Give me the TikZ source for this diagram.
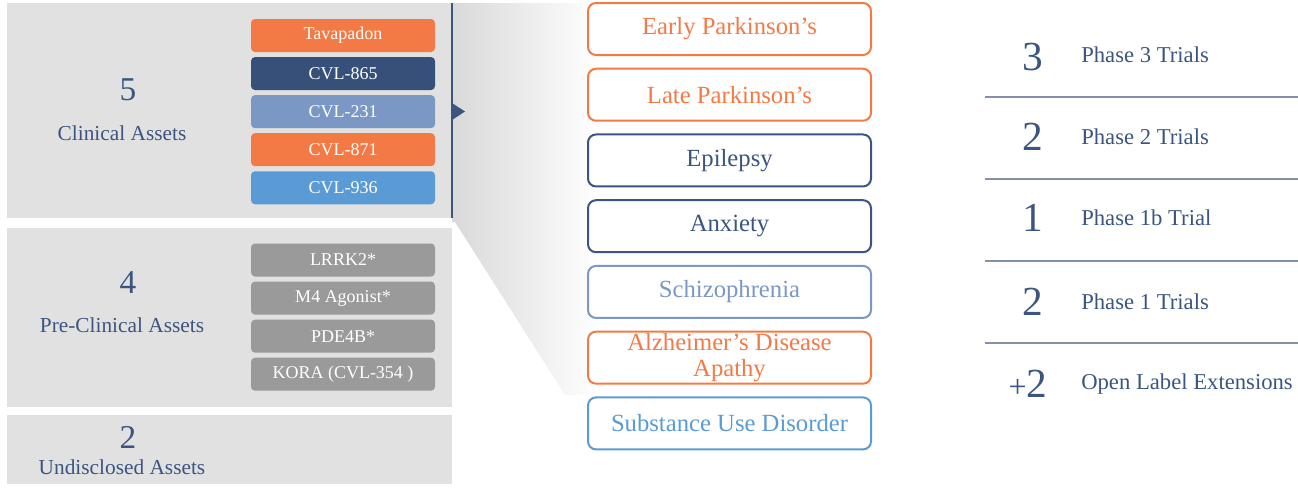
\documentclass[tikz,border=0pt]{standalone}
\usepackage{fontspec}
\setmainfont{Liberation Serif}
\usetikzlibrary{positioning}
\definecolor{navy}{HTML}{3B5580}
\definecolor{darkbox}{HTML}{36507A}
\definecolor{midblue}{HTML}{7B98C4}
\definecolor{lightblue}{HTML}{5B9BD5}
\definecolor{accent}{HTML}{F47A45}
\definecolor{boxgray}{HTML}{9A9A9A}
\definecolor{panelgray}{HTML}{E1E1E1}
\definecolor{rulegray}{HTML}{8391A8}

\begin{document}
\begin{tikzpicture}[x=0.75pt, y=0.75pt,
    panel/.style={fill=panelgray, minimum width=333.75pt, inner sep=0pt},
    asset/.style={rounded corners=3pt, text=white, minimum width=138pt, minimum height=24.75pt, inner sep=0pt, font=\fontsize{13.5}{15}\selectfont},
    indication/.style={draw, line width=1.5pt, rounded corners=6pt, fill=white, minimum width=212.25pt, minimum height=39pt, inner sep=0pt, align=center, font=\fontsize{18.5}{19.5}\selectfont},
    bignum/.style={text=navy, font=\fontsize{25}{25}\selectfont},
    biglabel/.style={text=navy, font=\fontsize{16}{17}\selectfont},
    trialnum/.style={text=navy, font=\fontsize{31}{31}\selectfont},
    triallabel/.style={text=navy, anchor=west, inner sep=0pt, font=\fontsize{17}{18}\selectfont},
    rule/.style={rulegray, line width=1.1pt}
  ]
    \useasboundingbox (0,0) rectangle (1298,-487);
    % zoom wedge behind the indications
    \shade[left color=gray!30, right color=white] (452,-3) -- (600,-3) -- (600,-395) -- (565,-395) -- (455,-222) -- (452,-222) -- cycle;
    % asset panels
    \node[panel, minimum height=161.25pt] (clinical) at (229.5,-110.5) {};
    \node[panel, minimum height=134.25pt] (preclinical) at (229.5,-317.5) {};
    \node[panel, minimum height=51.75pt] (undisclosed) at (229.5,-449.5) {};
    \node[bignum] (nclin) at (128,-90) {5};
    \node[biglabel] (lclin) at (122,-133) {Clinical Assets};
    \node[bignum] (npre) at (128,-283) {4};
    \node[biglabel] (lpre) at (122,-325) {Pre-Clinical Assets};
    \node[bignum] (nund) at (128,-437) {2};
    \node[biglabel] (lund) at (122,-467) {Undisclosed Assets};
    % clinical assets
    \node[asset, fill=accent] (tava) at (343,-35.5) {Tavapadon};
    \node[asset, fill=darkbox, below=3.4pt of tava] (cvla) {CVL-865};
    \node[asset, fill=midblue, below=3.4pt of cvla] (cvlb) {CVL-231};
    \node[asset, fill=accent, below=3.4pt of cvlb] (cvlc) {CVL-871};
    \node[asset, fill=lightblue, below=3.4pt of cvlc] (cvld) {CVL-936};
    % pre-clinical assets
    \node[asset, fill=boxgray] (lrrk) at (343,-260) {LRRK2*};
    \node[asset, fill=boxgray, below=3.4pt of lrrk] (mfour) {M4 Agonist*};
    \node[asset, fill=boxgray, below=3.4pt of mfour] (pde) {PDE4B*};
    \node[asset, fill=boxgray, below=3.4pt of pde] (kora) {KORA (CVL-354 )};
    % divider and pointer
    \draw[navy, line width=1.2pt] (452,-3) -- (452,-218);
    \fill[navy] (452,-103) -- (465,-111.5) -- (452,-120) -- cycle;
    % indications
    \node[indication, draw=accent, text=accent] (early) at (729.5,-29) {Early Parkinson's};
    \node[indication, draw=accent, text=accent, below=8.8pt of early] (late) {Late Parkinson's};
    \node[indication, draw=navy, text=navy, below=8.8pt of late] (epi) {Epilepsy};
    \node[indication, draw=navy, text=navy, below=8.8pt of epi] (anx) {Anxiety};
    \node[indication, draw=midblue, text=midblue, below=8.8pt of anx] (schizo) {Schizophrenia};
    \node[indication, draw=accent, text=accent, below=8.8pt of schizo] (alz) {Alzheimer's Disease\\Apathy};
    \node[indication, draw=lightblue, text=lightblue, below=8.8pt of alz] (sud) {Substance Use Disorder};
    % trials
    \node[trialnum] (nthree) at (1033,-57) {3};
    \node[triallabel] (pthree) at (1081,-55) {Phase 3 Trials};
    \node[trialnum] (ntwo) at (1033,-137) {2};
    \node[triallabel] (ptwo) at (1081,-137) {Phase 2 Trials};
    \node[trialnum] (nonebee) at (1033,-218) {1};
    \node[triallabel] (ponebee) at (1081,-218) {Phase 1b Trial};
    \node[trialnum] (none) at (1033,-302) {2};
    \node[triallabel] (pone) at (1081,-302) {Phase 1 Trials};
    \node[trialnum] (nole) at (1028,-384) {{\fontsize{24}{24}\selectfont+}2};
    \node[triallabel] (pole) at (1081,-384) {Open Label Extensions};
    \draw[rule] (985,-97) -- (1298,-97);
    \draw[rule] (985,-179) -- (1298,-179);
    \draw[rule] (985,-261) -- (1298,-261);
    \draw[rule] (985,-343) -- (1298,-343);
\end{tikzpicture}
\end{document}
